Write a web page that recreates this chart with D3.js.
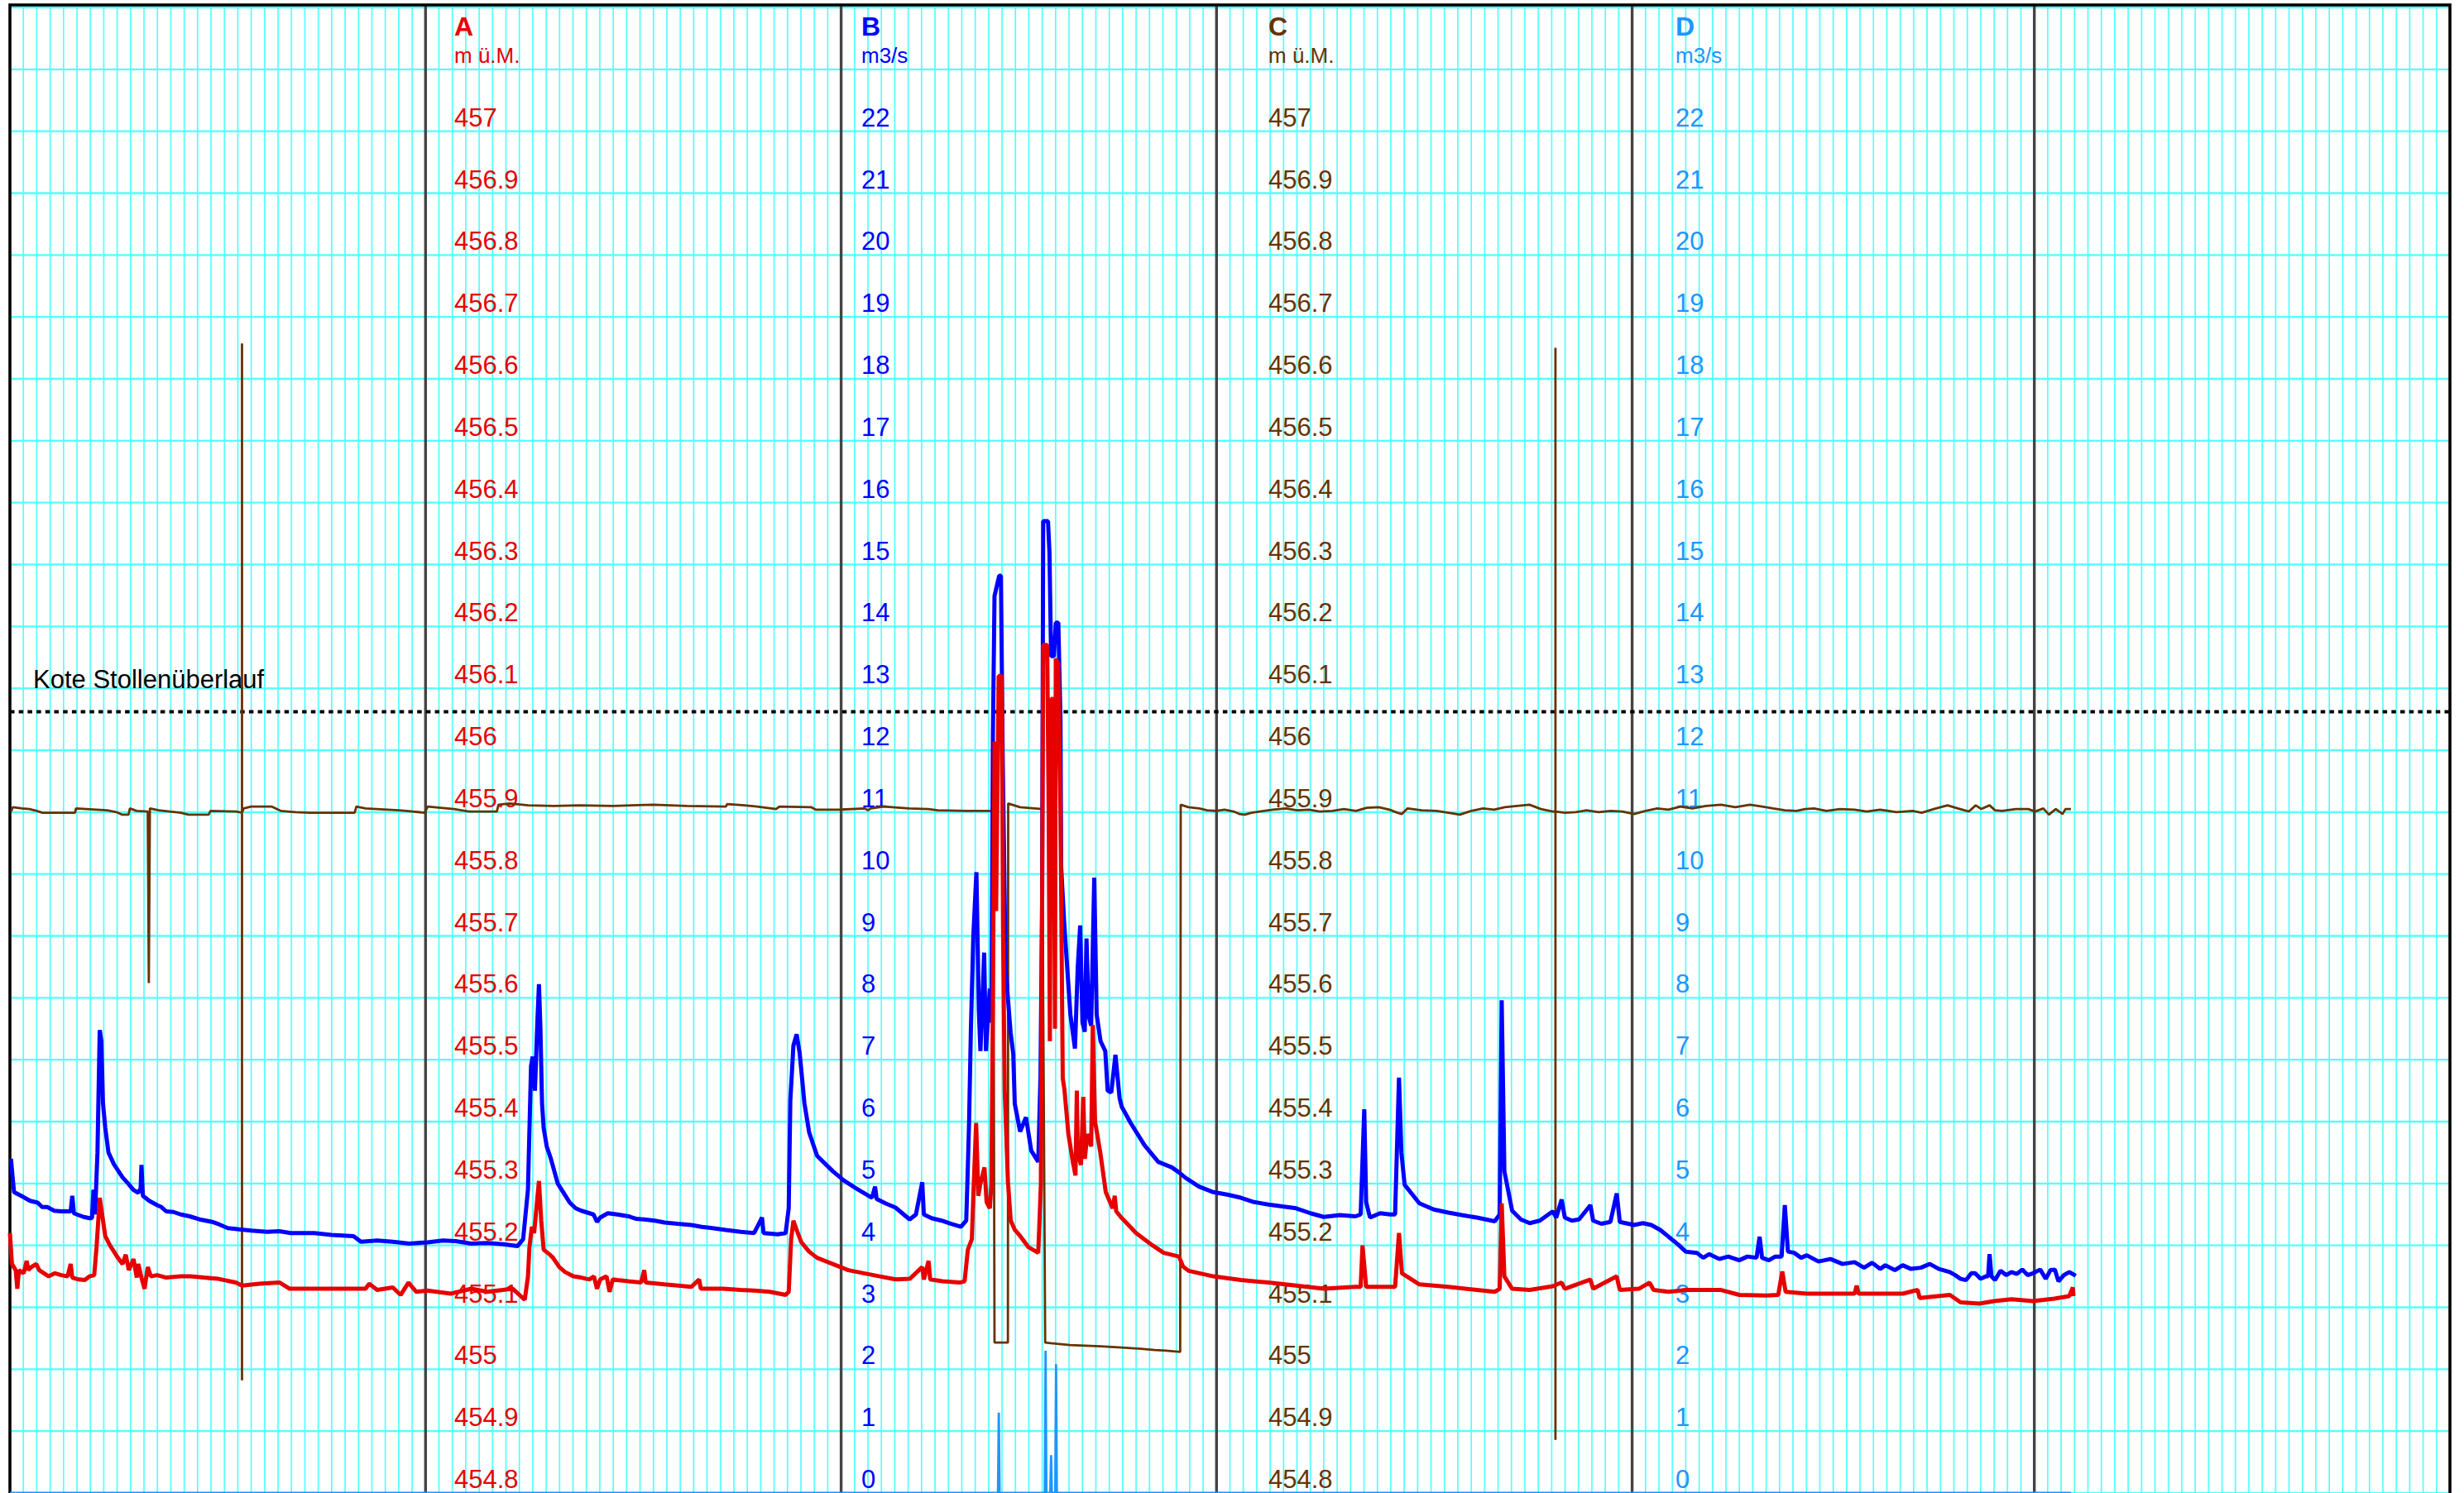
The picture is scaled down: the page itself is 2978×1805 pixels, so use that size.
<!DOCTYPE html>
<html lang="de">
<head>
  <meta charset="UTF-8">
  <title>Pegel und Abfluss Dez - Mai</title>
  <style>
    body { margin: 0; background: #fff; }
    svg { display: block; font-family: Arial, "Liberation Sans", sans-serif; }
  </style>
</head>
<body>
  <div id="chart"></div>

  <script src="https://d3js.org/d3.v7.min.js"></script>
  <script>

    // days counted from 1 December
    const levelA = [
      [0,455.22],[0.15,455.17],[0.43,455.16],[0.55,455.13],[0.67,455.16],[1.02,455.155],[1.25,455.175],[1.37,455.16],
      [1.6,455.165],[1.96,455.17],[2.19,455.16],[2.54,455.155],[2.89,455.15],[3.36,455.155],[3.83,455.152],[4.3,455.15],
      [4.53,455.17],[4.65,455.148],[5.12,455.145],[5.59,455.144],[5.94,455.15],[6.29,455.152],[6.47,455.2],[6.7,455.277],
      [6.88,455.25],[7.11,455.215],[7.46,455.2],[7.76,455.19],[8.05,455.18],[8.4,455.17],[8.64,455.185],[8.87,455.16],
      [9.22,455.178],[9.46,455.148],[9.57,455.17],[9.81,455.148],[10.04,455.13],[10.28,455.165],[10.51,455.15],[10.98,455.152],
      [11.66,455.148],[12.74,455.15],[13.44,455.15],[14.49,455.148],[15.55,455.146],[16.84,455.14],[17.31,455.135],[18.6,455.138],
      [20.12,455.14],[20.87,455.13],[22.7,455.13],[26.53,455.13],[26.8,455.138],[27.39,455.128],[28.56,455.132],[29.14,455.12],
      [29.73,455.14],[30.31,455.125],[31.14,455.127],[32.89,455.122],[34.42,455.13],[35.59,455.125],[36.76,455.128],[37.51,455.13],
      [38.4,455.112],[38.64,455.15],[38.75,455.197],[38.93,455.23],[39.1,455.22],[39.46,455.304],[39.63,455.24],[39.81,455.193],
      [40.28,455.185],[40.51,455.18],[40.98,455.165],[41.41,455.157],[42.03,455.15],[42.62,455.148],[43.21,455.145],[43.56,455.15],
      [43.79,455.13],[44.03,455.145],[44.5,455.15],[44.73,455.125],[44.96,455.145],[45.3,455.144],[46.14,455.142],[47.07,455.14],
      [47.31,455.16],[47.42,455.14],[48.83,455.137],[50.82,455.133],[51.41,455.145],[51.53,455.13],[53.17,455.13],[54.51,455.128],
      [55.51,455.127],[56.68,455.125],[57.86,455.12],[58.09,455.125],[58.27,455.21],[58.44,455.24],[58.68,455.225],[59.03,455.205],
      [59.61,455.19],[60.2,455.18],[61.37,455.17],[62.54,455.16],[63.71,455.155],[64.89,455.15],[66.06,455.145],[67.11,455.146],
      [68.05,455.165],[68.17,455.145],[68.52,455.175],[68.64,455.145],[69.57,455.142],[70.84,455.14],[71.21,455.142],[71.45,455.193],
      [71.75,455.21],[71.87,455.286],[72.07,455.398],[72.23,455.28],[72.39,455.3],[72.69,455.326],[72.85,455.27],[73.09,455.26],
      [73.21,455.3],[73.32,455.6],[73.44,456.014],[73.56,455.74],[73.75,456.12],[73.98,456.12],[74.08,455.7],[74.2,455.45],
      [74.44,455.304],[74.65,455.24],[74.96,455.225],[75.36,455.215],[75.98,455.197],[76.7,455.188],[76.78,455.23],[76.9,455.3],
      [77.02,455.9],[77.07,456.17],[77.37,456.17],[77.48,455.9],[77.57,455.53],[77.66,456.083],[77.84,456.083],[77.95,455.55],
      [78.01,456.148],[78.19,456.14],[78.36,455.9],[78.53,455.47],[78.66,455.451],[78.95,455.38],[79.28,455.335],[79.48,455.313],
      [79.58,455.45],[79.65,455.35],[79.89,455.33],[80.06,455.44],[80.18,455.34],[80.36,455.38],[80.65,455.36],[80.77,455.556],
      [80.94,455.4],[81.33,455.35],[81.74,455.286],[82.25,455.26],[82.41,455.28],[82.52,455.255],[82.86,455.246],[84,455.22],
      [85.23,455.2],[86.06,455.188],[87.2,455.182],[87.5,455.166],[87.91,455.159],[89.77,455.15],[91.82,455.144],[93.87,455.14],
      [95.94,455.135],[98,455.13],[100.36,455.133],[100.75,455.133],[100.89,455.2],[101.16,455.133],[102.96,455.133],[103.32,455.133],
      [103.61,455.22],[103.83,455.155],[105.13,455.137],[107.29,455.133],[110.75,455.125],[111.12,455.13],[111.27,455.268],[111.47,455.15],
      [112.05,455.13],[113.36,455.128],[115.08,455.134],[115.74,455.14],[115.98,455.13],[117.89,455.145],[118.09,455.13],[119.85,455.15],
      [120.08,455.128],[121.5,455.13],[122.3,455.14],[122.6,455.128],[123.72,455.125],[125,455.128],[127.63,455.128],[129,455.12],
      [131,455.119],[131.9,455.12],[132.2,455.158],[132.45,455.125],[134.03,455.122],[136.9,455.122],[137.59,455.122],[137.75,455.135],
      [137.9,455.122],[139.89,455.122],[141.18,455.122],[142.3,455.128],[142.45,455.115],[144.7,455.12],[145.5,455.108],[146.9,455.106],
      [148,455.11],[149.3,455.113],[150.9,455.11],[152.5,455.114],[153.6,455.118],[153.87,455.132],[153.92,455.118]
    ];

    const flowB = [
      [0.08,5.4],[0.2,5.1],[0.31,4.86],[1.02,4.78],[1.5,4.72],[2.07,4.69],[2.4,4.62],[2.78,4.62],[3.3,4.56],[3.83,4.55],[4.53,4.55],
      [4.65,4.8],[4.77,4.52],[5,4.5],[5.5,4.46],[5.94,4.44],[6.12,4.44],[6.23,4.9],[6.35,4.5],[6.53,5.5],[6.64,6.8],[6.7,7.48],
      [6.82,7.3],[6.94,6.3],[7.11,5.9],[7.35,5.5],[7.76,5.31],[8.4,5.1],[8.82,5],[9.2,4.9],[9.57,4.85],[9.75,4.92],[9.81,5.3],
      [9.92,4.8],[10.39,4.72],[10.98,4.65],[11.3,4.62],[11.66,4.55],[12.2,4.54],[12.74,4.5],[13.4,4.47],[14.14,4.42],[15.08,4.38],
      [15.6,4.34],[16.25,4.28],[17.1,4.26],[18.01,4.24],[19.18,4.22],[20.1,4.23],[20.94,4.2],[22.7,4.2],[23.99,4.17],[25.63,4.15],
      [26.18,4.06],[27.4,4.08],[28.56,4.06],[29.8,4.03],[31.14,4.05],[32.3,4.08],[33.25,4.07],[34.4,4.03],[35.59,4.04],[36.8,4.02],
      [37.87,3.99],[38.28,4.1],[38.64,4.9],[38.87,6.9],[38.99,7.05],[39.16,6.5],[39.34,7.6],[39.46,8.22],[39.57,7.5],[39.69,6.3],
      [39.81,5.9],[40.04,5.6],[40.35,5.4],[40.86,5],[41.3,4.85],[41.76,4.69],[42.2,4.6],[42.62,4.56],[43.53,4.5],[43.79,4.38],
      [44.03,4.45],[44.6,4.52],[45.3,4.5],[46.14,4.47],[46.7,4.43],[47.31,4.42],[48.1,4.4],[48.83,4.37],[49.8,4.35],[50.82,4.33],
      [51.6,4.3],[52.39,4.28],[53.4,4.25],[54.51,4.22],[55.51,4.2],[56.1,4.45],[56.21,4.2],[57.27,4.18],[57.86,4.2],[58.09,4.6],
      [58.21,6.34],[58.44,7.23],[58.68,7.41],[58.91,7.1],[59.26,6.3],[59.61,5.83],[60.2,5.45],[61.37,5.2],[62.2,5.05],[63.13,4.92],
      [64.3,4.77],[64.53,4.95],[64.65,4.75],[65.3,4.68],[66.06,4.61],[67.11,4.42],[67.58,4.5],[68.05,5.02],[68.17,4.5],[68.75,4.44],
      [69.5,4.4],[70.16,4.35],[70.94,4.3],[71.33,4.4],[71.45,5.26],[71.54,5.97],[71.68,7.5],[71.86,9],[72.09,10.03],[72.27,7.8],
      [72.39,7.14],[72.67,8.73],[72.8,7.14],[73.09,8.15],[73.21,7.6],[73.32,12.21],[73.44,14.49],[73.79,14.82],[73.92,14.82],
      [74.05,11.91],[74.27,8.46],[74.64,7.44],[74.84,7.09],[74.95,6.29],[75.35,5.84],[75.79,6.07],[76.18,5.53],[76.7,5.35],
      [76.87,6.73],[76.99,9.53],[77.07,15.7],[77.43,15.7],[77.54,15.19],[77.66,13.52],[77.87,13.52],[78.01,14.06],[78.2,14.06],
      [78.36,12.5],[78.41,10.12],[78.64,9.2],[79.1,7.73],[79.44,7.18],[79.65,8.5],[79.83,9.17],[80,7.6],[80.17,7.45],[80.3,8.96],
      [80.47,7.7],[80.65,7.55],[80.88,9.94],[81.06,7.73],[81.35,7.3],[81.7,7.14],[81.88,6.5],[82.15,6.47],[82.46,7.08],[82.77,6.38],
      [82.93,6.24],[83.59,5.98],[84.62,5.62],[85.65,5.35],[86.67,5.26],[87.2,5.18],[87.7,5.09],[88.7,4.95],[89.77,4.86],[90.8,4.82],
      [91.82,4.77],[92.8,4.7],[93.87,4.66],[94.9,4.63],[95.94,4.6],[97,4.52],[98,4.46],[99.2,4.49],[100.36,4.47],[100.75,4.5],
      [101.02,6.2],[101.16,4.7],[101.45,4.45],[102.2,4.52],[102.96,4.5],[103.32,4.5],[103.61,6.71],[103.79,5.5],[104.03,4.98],
      [105.13,4.68],[106.2,4.58],[107.29,4.53],[108.3,4.49],[109.42,4.45],[110.75,4.39],[111.12,4.5],[111.27,7.96],[111.47,5.2],
      [112.05,4.56],[112.7,4.42],[113.36,4.36],[114.11,4.4],[115.08,4.55],[115.34,4.45],[115.74,4.74],[115.98,4.45],[116.5,4.4],
      [117.04,4.42],[117.89,4.65],[118.09,4.4],[118.7,4.35],[119.38,4.38],[119.85,4.84],[120.08,4.38],[121.14,4.33],[121.8,4.36],
      [122.43,4.33],[123.1,4.25],[123.72,4.14],[124.4,4.02],[125,3.9],[125.83,3.88],[126.3,3.8],[126.76,3.86],[127.5,3.78],
      [128.17,3.82],[128.99,3.76],[129.6,3.82],[130.28,3.8],[130.51,4.14],[130.69,3.8],[131.2,3.76],[131.68,3.82],[132.15,3.82],
      [132.39,4.65],[132.62,3.9],[133.09,3.88],[133.6,3.8],[134.03,3.84],[134.9,3.74],[135.79,3.78],[136.7,3.7],[137.59,3.73],
      [138.3,3.64],[138.9,3.72],[139.5,3.62],[139.89,3.68],[140.6,3.6],[141.18,3.68],[141.8,3.62],[142.53,3.64],[143.2,3.7],
      [143.88,3.62],[144.69,3.57],[145.1,3.52],[145.5,3.46],[145.91,3.44],[146.3,3.55],[146.58,3.55],[146.99,3.46],[147.4,3.5],
      [147.55,3.5],[147.66,3.86],[147.8,3.5],[148.07,3.44],[148.48,3.59],[148.9,3.52],[149.29,3.57],[149.7,3.54],[150.1,3.61],
      [150.5,3.52],[150.9,3.55],[151.44,3.61],[151.85,3.46],[152.2,3.6],[152.53,3.61],[152.8,3.42],[153.2,3.52],[153.61,3.57],
      [154.09,3.51]
    ];

    const levelC = [
      [0.09,455.901],[0.22,455.908],[0.91,455.906],[1.46,455.905],[2.01,455.902],[2.42,455.899],[3.95,455.899],[4.85,455.899],
      [4.93,455.906],[7.25,455.903],[7.93,455.9],[8.35,455.896],[8.85,455.896],[8.95,455.906],[9.46,455.902],[10.28,455.901],
      [10.36,455.624],[10.44,455.906],[11.1,455.903],[11.92,455.901],[12.76,455.899],[13.31,455.896],[14.82,455.896],[14.96,455.902],
      [16.89,455.901],[17.31,455.899],[17.31,456.657],[17.31,454.982],[17.31,455.899],[17.44,455.906],[18,455.909],[19.51,455.909],
      [20.2,455.902],[21.29,455.9],[22.4,455.899],[25.71,455.899],[25.84,455.909],[26.53,455.906],[29.01,455.903],[29.57,455.902],
      [30.94,455.899],[31.16,455.909],[33.13,455.905],[34.24,455.901],[36.32,455.901],[36.44,455.912],[37.28,455.914],[38.66,455.911],
      [40.58,455.91],[42.46,455.911],[45,455.91],[48,455.912],[50.5,455.91],[53.4,455.909],[53.5,455.913],[54.8,455.911],
      [55.73,455.909],[57.15,455.905],[57.39,455.909],[59.75,455.908],[60.1,455.904],[61.87,455.904],[63.77,455.906],[64,455.903],
      [64.2,455.906],[65.18,455.909],[67.08,455.906],[68.5,455.905],[69.21,455.903],[71.33,455.902],[73.34,455.902],[73.44,455.043],
      [74.44,455.043],[74.46,455.914],[75.34,455.908],[76.99,455.905],[77.22,455.043],[78.13,455.041],[79.07,455.039],[81.33,455.037],
      [82.93,455.035],[84.34,455.033],[85.39,455.031],[86.22,455.03],[87.29,455.028],[87.33,455.912],[87.9,455.908],[88.71,455.906],
      [89.3,455.903],[89.98,455.902],[90.6,455.904],[91.27,455.901],[91.7,455.897],[92.11,455.896],[92.6,455.899],[93.22,455.901],
      [94.2,455.904],[95.17,455.906],[96,455.903],[96.89,455.904],[97.7,455.901],[98.63,455.902],[99.5,455.905],[100.4,455.902],
      [101.2,455.907],[102.1,455.908],[102.9,455.904],[103.5,455.899],[103.83,455.897],[104.25,455.906],[105.3,455.903],[106.42,455.902],
      [107.3,455.899],[108.15,455.896],[109,455.902],[109.88,455.906],[110.7,455.904],[111.5,455.908],[112.4,455.91],[113.34,455.912],
      [114.2,455.905],[115.08,455.901],[115.28,455.901],[115.28,456.65],[115.28,454.886],[115.28,455.901],[116,455.899],[116.8,455.9],
      [117.6,455.903],[118.5,455.9],[119.4,455.902],[120.27,455.901],[121.14,455.897],[122,455.902],[122.87,455.906],[123.7,455.904],
      [124.61,455.909],[125.5,455.906],[126.5,455.91],[127.63,455.912],[128.7,455.908],[129.8,455.912],[130.7,455.909],[131.53,455.906],
      [132.4,455.903],[133.26,455.902],[133.9,455.905],[134.57,455.906],[135.5,455.902],[136.5,455.905],[137.59,455.904],[138.5,455.901],
      [139.5,455.904],[140.7,455.9],[141.93,455.902],[142.6,455.899],[143.5,455.905],[144.52,455.911],[145.3,455.906],[146.12,455.901],
      [146.63,455.911],[147.05,455.905],[147.66,455.911],[148.07,455.903],[148.59,455.902],[149.62,455.905],[150.54,455.905],
      [151.06,455.901],[151.67,455.906],[152.09,455.896],[152.6,455.905],[153.11,455.897],[153.32,455.905],[153.73,455.905]
    ];

    const flowD = [
      [0,0],[73.7,0],[73.76,1.3],[73.82,0],[77.19,0],[77.25,2.3],[77.31,0],[77.6,0],[77.66,0.61],[77.72,0],
      [77.97,0],[78.03,2.08],[78.09,0],[153.73,0]
    ];

    const levelTicks = [454.8,454.9,455,455.1,455.2,455.3,455.4,455.5,455.6,455.7,455.8,455.9,
                        456,456.1,456.2,456.3,456.4,456.5,456.6,456.7,456.8,456.9,457];
    const flowTicks = [0,1,2,3,4,5,6,7,8,9,10,11,12,13,14,15,16,17,18,19,20,21,22];

    const axisNames = ["A", "B", "C", "D"];
    const axisUnits = ["m ü.M.", "m3/s", "m ü.M.", "m3/s"];
    const axisColors = ["#e60000", "#0000ff", "#663300", "#1e96ff"];

    const weirLevel = 456.062;
    const weirLabel = "Kote Stollenüberlauf";

    const width = 2978,
          height = 1805,
          margin = {top: 9, right: 17, bottom: 0, left: 12};

    const start = Date.UTC(2012, 11, 1),
          end = Date.UTC(2013, 5, 1);
    const toDate = d => new Date(start + d * 864e5);

    const svg = d3.select("#chart")
      .append("svg")
      .attr("width", width)
      .attr("height", height);

    const x = d3.scaleUtc([new Date(start), new Date(end)], [margin.left, width - margin.right]);
    const yLevel = d3.scaleLinear([454.8, 457.2], [height - margin.bottom, margin.top]);
    const yFlow = d3.scaleLinear([0, 24], [height - margin.bottom, margin.top]);

    // grid: one line per day, one per 0.1 m
    const grid = svg.append("g").attr("stroke", "#55ffff");

    grid.selectAll(".vday")
      .data(x.ticks(d3.utcDay.every(1)))
      .join("line")
      .attr("class", "vday")
      .attr("x1", d => x(d)).attr("x2", d => x(d))
      .attr("y1", margin.top - 3).attr("y2", height)
      .attr("stroke-width", 1.7);

    grid.selectAll(".hline")
      .data(yFlow.ticks(24))
      .join("line")
      .attr("class", "hline")
      .attr("x1", margin.left).attr("x2", width - margin.right)
      .attr("y1", d => yFlow(d)).attr("y2", d => yFlow(d))
      .attr("stroke-width", 2.4);

    const months = x.ticks(d3.utcMonth.every(1)).slice(1, -1);
    svg.append("g")
      .selectAll("line")
      .data(months)
      .join("line")
      .attr("x1", d => x(d)).attr("x2", d => x(d))
      .attr("y1", 6).attr("y2", height)
      .attr("stroke", "#444")
      .attr("stroke-width", 3.4);

    svg.append("rect")
      .attr("x", margin.left)
      .attr("y", 6)
      .attr("width", width - margin.left - margin.right)
      .attr("height", height + 10)
      .attr("fill", "none")
      .attr("stroke", "#000")
      .attr("stroke-width", 3.6);

    // four value columns
    const fmt = d => String(+d.toFixed(1));
    axisNames.forEach((name, i) => {
      const isLevel = i % 2 === 0;
      const colX = 549 + i * 492;

      const g = svg.append("g")
        .attr("transform", `translate(${colX},0)`)
        .call(d3.axisRight(isLevel ? yLevel : yFlow)
          .tickValues(isLevel ? levelTicks : flowTicks)
          .tickSize(0)
          .tickPadding(0)
          .tickFormat(fmt));

      g.select(".domain").remove();
      g.selectAll("text")
        .attr("dy", "-0.21em")
        .attr("fill", axisColors[i])
        .style("font-size", "31px")
        .style("font-family", "Arial, 'Liberation Sans', sans-serif");

      svg.append("text")
        .attr("x", colX)
        .attr("y", 43)
        .attr("fill", axisColors[i])
        .style("font-size", "32px")
        .style("font-weight", "bold")
        .text(name);

      svg.append("text")
        .attr("x", colX)
        .attr("y", 76)
        .attr("fill", axisColors[i])
        .style("font-size", "26px")
        .text(axisUnits[i]);
    });

    // overflow level
    svg.append("line")
      .attr("x1", margin.left).attr("x2", width - margin.right)
      .attr("y1", yLevel(weirLevel)).attr("y2", yLevel(weirLevel))
      .attr("stroke", "#000")
      .attr("stroke-width", 4)
      .attr("stroke-dasharray", "5.5,5.2");

    svg.append("text")
      .attr("x", 40)
      .attr("y", 832)
      .attr("fill", "#000")
      .style("font-size", "31px")
      .text(weirLabel);

    const lineLevel = d3.line().x(d => x(toDate(d[0]))).y(d => yLevel(d[1]));
    const lineFlow = d3.line().x(d => x(toDate(d[0]))).y(d => yFlow(d[1]));

    const series = [
      {data: flowD, line: lineFlow, color: axisColors[3], w: 2.8},
      {data: levelC, line: lineLevel, color: axisColors[2], w: 2.8},
      {data: flowB, line: lineFlow, color: axisColors[1], w: 5},
      {data: levelA, line: lineLevel, color: axisColors[0], w: 5}
    ];

    svg.append("g")
      .selectAll("path")
      .data(series)
      .join("path")
      .attr("fill", "none")
      .attr("stroke", d => d.color)
      .attr("stroke-width", d => d.w)
      .attr("stroke-linejoin", "bevel")
      .attr("d", d => d.line(d.data));

  </script>
</body>
</html>
